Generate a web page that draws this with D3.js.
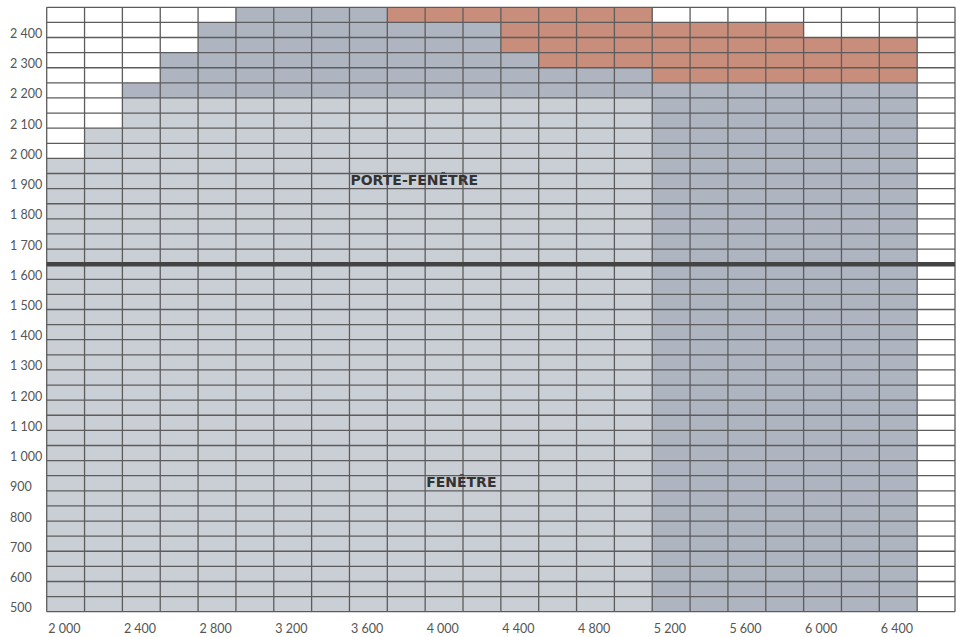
<!DOCTYPE html>
<html>
<head>
<meta charset="utf-8">
<style>
    body { margin: 0; background: #fff; }
    .grid line { stroke: #5c5c5c; stroke-width: 1.3; }
    .axis text { font-family: Lato, "Open Sans", sans-serif; font-size: 12.5px; fill: #555; }
    .zone { font-family: "DejaVu Sans", sans-serif; font-weight: bold; font-size: 14px; fill: #333; }
</style>
</head>
<body>
<svg id="chart" width="957" height="637"></svg>
<script src="https://d3js.org/d3.v7.min.js"></script>
<script>
    // column widths (mm), one column per 200
    const widths = [2000, 2200, 2400, 2600, 2800, 3000, 3200, 3400, 3600, 3800, 4000, 4200,
                    4400, 4600, 4800, 5000, 5200, 5400, 5600, 5800, 6000, 6200, 6400, 6600];
    // top of the main (lower) fill per column, null = empty column
    const baseTop = [2000, 2100, 2200, 2200, 2200, 2200, 2200, 2200, 2200, 2200, 2200, 2200,
                     2200, 2200, 2200, 2200, 2250, 2250, 2250, 2250, 2250, 2250, 2250, null];
    // top of the darker grey band above it
    const bandTop = [2000, 2100, 2250, 2350, 2450, 2500, 2500, 2500, 2500, 2450, 2450, 2450,
                     2350, 2300, 2300, 2300, 2250, 2250, 2250, 2250, 2250, 2250, 2250, null];
    // top of the salmon band
    const extraTop = [null, null, null, null, null, null, null, null, null, 2500, 2500, 2500,
                      2500, 2500, 2500, 2500, 2450, 2450, 2450, 2450, 2400, 2400, 2400, null];
    const darkBaseFrom = 5200;   // from this width the lower fill is darker
    const minHeight = 500, maxHeight = 2500, rowStep = 50, colStep = 200;
    const splitHeight = 1650;    // fenêtre / porte-fenêtre limit
    const xTicks = [2000, 2400, 2800, 3200, 3600, 4000, 4400, 4800, 5200, 5600, 6000, 6400];
    const yTicks = d3.range(500, 2401, 100);
    const zoneLabels = [
        { text: "PORTE-FENÊTRE", w: 3600, h: 1900 },
        { text: "FENÊTRE", w: 4000, h: 900 }
    ];

    const colors = { light: "#cacfd5", dark: "#aeb4c0", extra: "#c98d7c" };

    let svg = d3.select("#chart");
    let x = d3.scaleLinear().domain([2000, 6800]).range([46.7, 955]);
    let y = d3.scaleLinear().domain([minHeight, maxHeight]).range([611.7, 7.3]);

    // stacked cells per column
    let segs = [];
    widths.forEach((w, i) => {
        if (baseTop[i] == null) return;
        segs.push({ w: w, y0: minHeight, y1: baseTop[i], fill: w >= darkBaseFrom ? colors.dark : colors.light });
        if (bandTop[i] > baseTop[i])
            segs.push({ w: w, y0: baseTop[i], y1: bandTop[i], fill: colors.dark });
        if (extraTop[i] != null && extraTop[i] > bandTop[i])
            segs.push({ w: w, y0: bandTop[i], y1: extraTop[i], fill: colors.extra });
    });

    svg.append("g").selectAll("rect")
        .data(segs)
        .enter()
        .append("rect")
        .attr("x", (d) => x(d.w))
        .attr("width", (d) => x(d.w + colStep) - x(d.w))
        .attr("y", (d) => y(d.y1))
        .attr("height", (d) => y(d.y0) - y(d.y1))
        .attr("fill", (d) => d.fill);

    // grid
    let grid = svg.append("g").attr("class", "grid");
    let colEdges = widths.concat([widths[widths.length - 1] + colStep]);
    grid.selectAll(".v")
        .data(colEdges)
        .enter()
        .append("line")
        .attr("x1", (d) => x(d)).attr("x2", (d) => x(d))
        .attr("y1", y(maxHeight)).attr("y2", y(minHeight));
    grid.selectAll(".h")
        .data(d3.range(minHeight, maxHeight + 1, rowStep))
        .enter()
        .append("line")
        .attr("x1", x.range()[0]).attr("x2", x.range()[1])
        .attr("y1", (d) => y(d)).attr("y2", (d) => y(d));

    // split line
    svg.append("line")
        .attr("x1", x.range()[0]).attr("x2", x.range()[1])
        .attr("y1", y(splitHeight)).attr("y2", y(splitHeight))
        .attr("stroke", "#444")
        .attr("stroke-width", 4.5);

    // axes
    let loc = d3.formatLocale({ decimal: ",", thousands: " ", grouping: [3], currency: ["", "€"] });
    let fmt = loc.format(",d");

    let yAxis = svg.append("g")
        .attr("class", "axis")
        .attr("transform", "translate(10,0)")
        .call(d3.axisLeft(y).tickValues(yTicks).tickSize(0).tickFormat(fmt));
    yAxis.select(".domain").remove();
    yAxis.selectAll("text")
        .attr("x", 0).attr("dy", 0)
        .attr("text-anchor", "start");

    let xAxis = svg.append("g")
        .attr("class", "axis")
        .attr("transform", "translate(0,633)")
        .call(d3.axisBottom(x).tickValues(xTicks).tickSize(0).tickFormat(fmt));
    xAxis.select(".domain").remove();
    xAxis.selectAll("text")
        .attr("x", 1).attr("y", 0).attr("dy", 0)
        .attr("text-anchor", "start");

    // zone labels
    svg.append("g").selectAll("text")
        .data(zoneLabels)
        .enter()
        .append("text")
        .attr("class", "zone")
        .attr("x", (d) => x(d.w) + 1)
        .attr("y", (d) => y(d.h) - 4)
        .text((d) => d.text);
</script>
</body>
</html>
